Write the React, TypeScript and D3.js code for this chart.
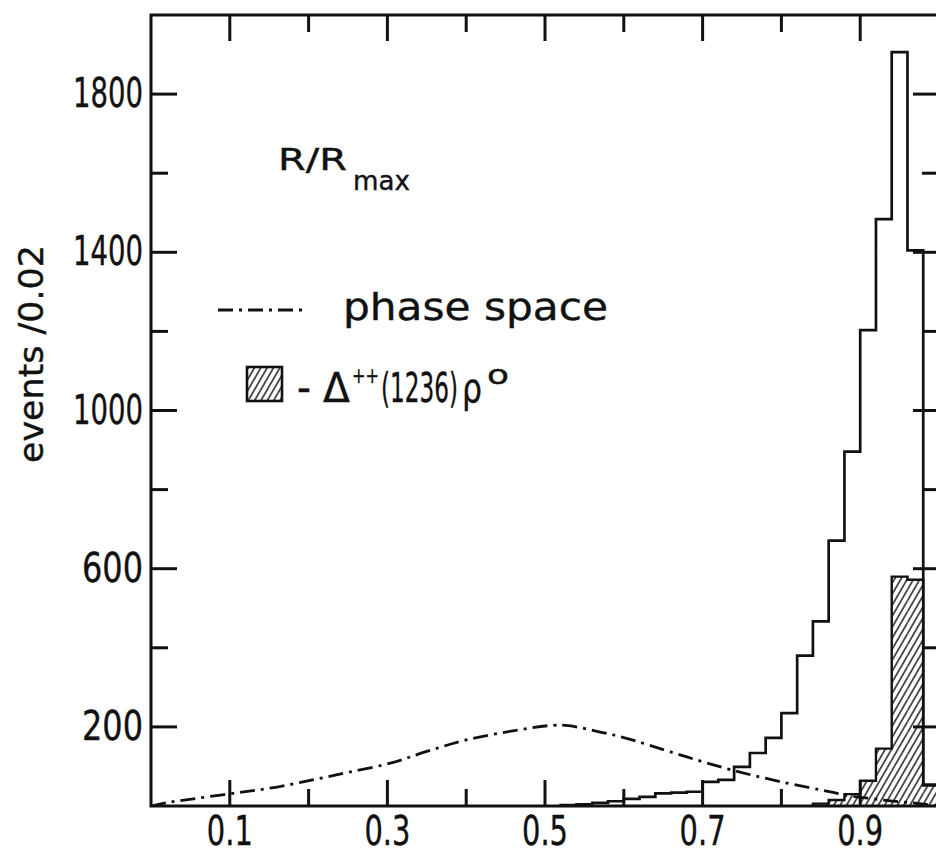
import * as d3 from "d3";
import { useLayoutEffect, useRef, useState } from "react";

// histogram bins (lower edges), width 0.02 in R/Rmax
const binLo = [
  0.52, 0.54, 0.56, 0.58, 0.6, 0.62, 0.64, 0.66, 0.68, 0.7, 0.72, 0.74,
  0.76, 0.78, 0.8, 0.82, 0.84, 0.86, 0.88, 0.9, 0.92, 0.94, 0.96, 0.98,
];
const allEvents = [
  2, 4, 8, 12, 18, 23, 32, 34, 36, 61, 66, 99, 134, 172, 235, 380, 467, 671,
  896, 1203, 1484, 1906, 1405, 54,
];
const deltaLo = [0.84, 0.86, 0.88, 0.9, 0.92, 0.94, 0.96, 0.98];
const deltaEvents = [6, 15, 30, 64, 145, 580, 572, 52];
const binWidth = 0.02;

// phase space curve
const phaseR = [
  0, 0.025, 0.06, 0.115, 0.16, 0.205, 0.25, 0.305, 0.35, 0.4, 0.465, 0.51,
  0.53, 0.57, 0.6, 0.632, 0.68, 0.737, 0.8, 0.864, 0.88, 0.93, 0.975, 1.0,
];
const phaseEvents = [
  0, 10, 20, 35, 48, 66, 85, 109, 138, 167, 192, 204, 203, 187, 173, 154, 124,
  91, 61, 35, 28, 15, 6, 0,
];

const xMajor = [0.1, 0.3, 0.5, 0.7, 0.9];
const xMinor = [0.2, 0.4, 0.6, 0.8];
const yMajor = [200, 600, 1000, 1400, 1800];
const yMinor = [400, 800, 1200, 1600];

const W = 936;
const H = 855;
const FONT = "'DejaVu Sans', 'Liberation Sans', sans-serif";
const INK = "#111";

// text squeezed horizontally to a given width (the lettering is condensed)
function T({
  x,
  y,
  len,
  size,
  children,
  anchor = "start",
}: {
  x: number;
  y: number;
  len: number;
  size: number;
  children: string;
  anchor?: "start" | "middle" | "end";
}) {
  const ref = useRef<SVGTextElement | null>(null);
  const [k, setK] = useState(1);
  useLayoutEffect(() => {
    const w = ref.current?.getComputedTextLength() ?? 0;
    if (w > 0) setK(len / w);
  }, [len, size, children]);
  const x0 = anchor === "start" ? x : anchor === "middle" ? x - len / 2 : x - len;
  return (
    <text
      ref={ref}
      transform={`translate(${x0},${y}) scale(${k},1)`}
      fontSize={size}
      fill={INK}
      stroke={INK}
      strokeWidth={0.4}
    >
      {children}
    </text>
  );
}

export default function App() {
  const x = d3.scaleLinear().domain([0, 1]).range([151, 939]);
  const y = d3.scaleLinear().domain([0, 2000]).range([806, 15]);

  const stepPts = (lo: number[], vals: number[]) => {
    const pts: [number, number][] = [[lo[0], 0]];
    lo.forEach((l, i) => {
      pts.push([l, vals[i]]);
      pts.push([l + binWidth, vals[i]]);
    });
    pts.push([lo[lo.length - 1] + binWidth, 0]);
    return pts;
  };

  const line = d3
    .line<[number, number]>()
    .x((d) => x(d[0]))
    .y((d) => y(d[1]));

  const phaseLine = d3
    .line<number>()
    .x((d) => x(d))
    .y((_, i) => y(phaseEvents[i]))
    .curve(d3.curveCatmullRom);

  const dash = "15 6 3 6";
  const left = x(0);
  const right = x(1);
  const top = y(2000);
  const bottom = y(0);
  const major = 26;
  const minor = 17;

  return (
    <svg
      width={W}
      height={H}
      style={{ position: "absolute", left: 0, top: 0, background: "#fff" }}
      fontFamily={FONT}
    >
      <defs>
        <pattern
          id="hatch"
          patternUnits="userSpaceOnUse"
          width={5.5}
          height={10}
          patternTransform="rotate(30)"
        >
          <line x1={2.75} y1={-1} x2={2.75} y2={11} stroke={INK} strokeWidth={1.4} />
        </pattern>
      </defs>

      {/* hatched Delta++ rho0 histogram */}
      <g>
        {deltaLo.map((l, i) => (
          <rect
            key={l}
            x={x(l)}
            y={y(deltaEvents[i])}
            width={x(l + binWidth) - x(l)}
            height={bottom - y(deltaEvents[i])}
            fill="url(#hatch)"
          />
        ))}
        <path
          d={line(stepPts(deltaLo, deltaEvents)) ?? ""}
          fill="none"
          stroke={INK}
          strokeWidth={2.4}
        />
      </g>

      {/* all events histogram */}
      <path
        d={line(stepPts(binLo, allEvents)) ?? ""}
        fill="none"
        stroke={INK}
        strokeWidth={2.7}
      />

      {/* phase space */}
      <path
        d={phaseLine(phaseR) ?? ""}
        fill="none"
        stroke={INK}
        strokeWidth={2.8}
        strokeDasharray={dash}
      />

      {/* frame */}
      <rect
        x={left}
        y={top}
        width={right - left}
        height={bottom - top}
        fill="none"
        stroke={INK}
        strokeWidth={3}
      />

      {/* x ticks, bottom and top */}
      {xMajor.concat(xMinor).map((v) => {
        const len = xMajor.includes(v) ? major : minor;
        return (
          <g key={v} stroke={INK} strokeWidth={3}>
            <line x1={x(v)} x2={x(v)} y1={bottom} y2={bottom - len} />
            <line x1={x(v)} x2={x(v)} y1={top} y2={top + len} />
          </g>
        );
      })}

      {/* y ticks, left and right */}
      {yMajor.concat(yMinor).map((v) => {
        const len = yMajor.includes(v) ? major : minor;
        return (
          <g key={v} stroke={INK} strokeWidth={3}>
            <line x1={left} x2={left + len} y1={y(v)} y2={y(v)} />
            <line x1={right} x2={right - len} y1={y(v)} y2={y(v)} />
          </g>
        );
      })}

      {/* tick labels */}
      {xMajor.map((v) => (
        <T key={v} x={x(v)} y={845} len={46} size={40} anchor="middle">
          {String(v)}
        </T>
      ))}
      {yMajor.map((v) => (
        <T
          key={v}
          x={143}
          y={y(v) + 13}
          len={String(v).length === 4 ? 70 : 61}
          size={40}
          anchor="end"
        >
          {String(v)}
        </T>
      ))}

      {/* axis title */}
      <g transform="translate(43,354) rotate(-90)">
        <T x={0} y={0} len={218} size={34} anchor="middle">
          events /0.02
        </T>
      </g>

      {/* variable label */}
      <T x={278} y={170} len={69} size={31}>
        R/R
      </T>
      <T x={353} y={190} len={57} size={26}>
        max
      </T>

      {/* legend: phase space */}
      <line
        x1={218}
        x2={308}
        y1={310}
        y2={310}
        stroke={INK}
        strokeWidth={2.8}
        strokeDasharray={dash}
      />
      <T x={343} y={320} len={265} size={38}>
        phase space
      </T>

      {/* legend: hatched */}
      <rect
        x={247}
        y={367}
        width={35}
        height={34}
        fill="url(#hatch)"
        stroke={INK}
        strokeWidth={2.6}
      />
      <T x={297} y={402} len={14} size={40}>
        -
      </T>
      <T x={323} y={402} len={27} size={40}>
        Δ
      </T>
      <T x={352} y={383} len={27} size={22}>
        ++
      </T>
      <T x={381} y={402} len={77} size={41}>
        (1236)
      </T>
      <T x={462} y={402} len={20} size={40}>
        ρ
      </T>
      <T x={487} y={384} len={22} size={26}>
        o
      </T>
    </svg>
  );
}
